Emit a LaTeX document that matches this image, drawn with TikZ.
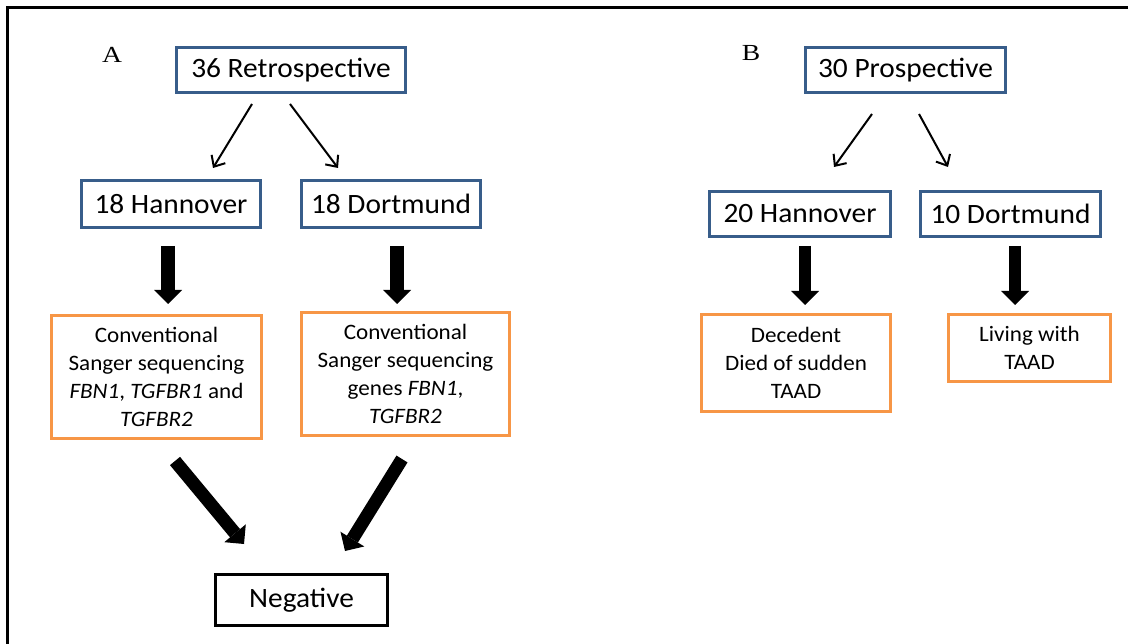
\documentclass[tikz,border=0pt]{standalone}
\usepackage{fontspec}
\setmainfont{Carlito}[FakeStretch=1.05]
\newfontfamily\serifA{Liberation Serif}[FakeStretch=1.2]
\usetikzlibrary{arrows.meta,calc}
\definecolor{boxblue}{HTML}{385D8A}
\definecolor{boxorange}{HTML}{F79646}
\begin{document}
\begin{tikzpicture}[x=1pt,y=-1pt,
 bluebox/.style={draw=boxblue,line width=3pt,inner sep=0pt,font=\fontsize{28}{32}\selectfont},
 orangebox/.style={draw=boxorange,line width=3pt,inner sep=0pt,align=center,font=\fontsize{22}{28}\selectfont},
 blackbox/.style={draw=black,line width=3pt,inner sep=0pt,font=\fontsize{28}{32}\selectfont},
 thinarrow/.style={line width=2pt,-{Straight Barb[length=9pt,width=16pt]}},
 fatarrow/.style={line width=13pt,-{Triangle[width=28pt,length=14pt,line width=0pt]}},
 panel/.style={font=\serifA\fontsize{23}{26}\selectfont,inner sep=0pt}]
\useasboundingbox (0,0) rectangle (1138,644);
\draw[line width=3pt] (1128,8) -- (7,8) -- (7,644);
\node[panel] (la) at (112,55) {A};
\node[panel] (lb) at (751,53) {B};
% Panel A
\node[bluebox,minimum width=229pt,minimum height=45pt] (r) at (291,70) {36 Retrospective};
\node[bluebox,minimum width=179pt,minimum height=47pt] (h1) at (171,204) {18 Hannover};
\node[bluebox,minimum width=179pt,minimum height=47pt] (d1) at (391,204) {18 Dortmund};
\node[orangebox,minimum width=210pt,minimum height=123pt] (o1) at (156.5,377) {Conventional\\Sanger sequencing\\\textit{FBN1}, \textit{TGFBR1} and\\\textit{TGFBR2}};
\node[orangebox,minimum width=208pt,minimum height=123pt] (o2) at (405.5,374) {Conventional\\Sanger sequencing\\genes \textit{FBN1},\\\textit{TGFBR2}};
\node[blackbox,minimum width=172pt,minimum height=51pt] (neg) at (301.5,600) {Negative};
% Panel B
\node[bluebox,minimum width=200pt,minimum height=45pt] (p) at (905.5,70) {30 Prospective};
\node[bluebox,minimum width=181pt,minimum height=45pt] (h2) at (800,214) {20 Hannover};
\node[bluebox,minimum width=180pt,minimum height=45pt] (d2) at (1010.5,214) {10 Dortmund};
\node[orangebox,minimum width=189pt,minimum height=97pt] (dec) at (796,363) {Decedent\\Died of sudden\\TAAD};
\node[orangebox,minimum width=162pt,minimum height=67pt] (liv) at (1029.5,348) {Living with\\TAAD};
% thin arrows
\draw[thinarrow] ([shift={(-39,10)}]r.south) -- ([shift={(42,-11)}]h1.north);
\draw[thinarrow] ([shift={(-1,10)}]r.south) -- ([shift={(-53,-11)}]d1.north);
\draw[thinarrow] ([shift={(-33.5,20)}]p.south) -- ([shift={(34,-23)}]h2.north);
\draw[thinarrow] ([shift={(13.5,20)}]p.south) -- ([shift={(-62.5,-23)}]d2.north);
% fat arrows
\draw[fatarrow,line width=14pt] ([shift={(-3,17)}]h1.south) -- ([shift={(11.5,-10)}]o1.north);
\draw[fatarrow,line width=14pt] ([shift={(6,17)}]d1.south) -- ([shift={(-8.5,-7)}]o2.north);
\draw[fatarrow,line width=12pt] ([shift={(5,8)}]h2.south) -- ([shift={(9,-8)}]dec.north);
\draw[fatarrow,line width=12pt] ([shift={(4.5,8)}]d2.south) -- ([shift={(-14.5,-8)}]liv.north);
\draw[fatarrow] ([shift={(18.5,21)}]o1.south) -- ([shift={(-57.5,-29)}]neg.north);
\draw[fatarrow] ([shift={(-3.5,22)}]o2.south) -- ([shift={(43.5,-22)}]neg.north);
\end{tikzpicture}
\end{document}
